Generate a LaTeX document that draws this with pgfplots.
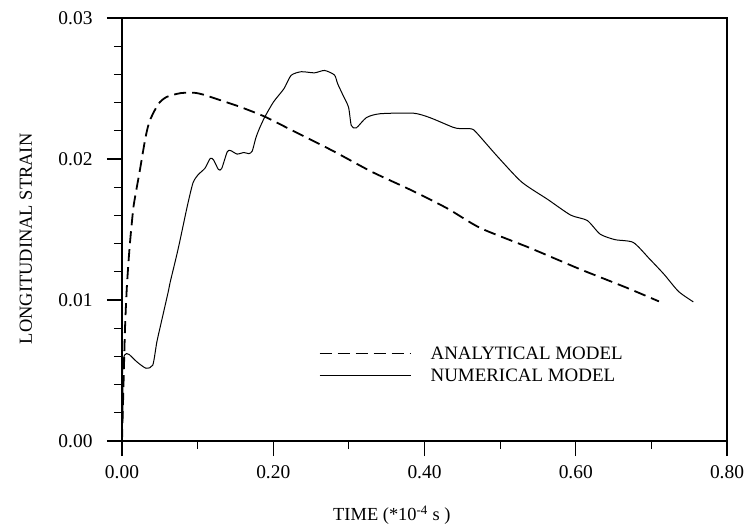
\documentclass[border=0pt]{standalone}
\usepackage{pgfplots}
\pgfplotsset{compat=1.18}
\usepackage{fontspec}
\setmainfont{Liberation Serif}
\begin{document}
\begin{tikzpicture}
\begin{axis}[
  scale only axis, width=605bp, height=423bp,
  xmin=0, xmax=0.8, ymin=0, ymax=0.03,
  axis line style={line width=1.3bp},
  tick align=outside, tick pos=left,
  xtick={0,0.2,0.4,0.6,0.8}, ytick={0,0.01,0.02,0.03},
  xminorticks=true, yminorticks=true,
  minor xtick={0.1,0.3,0.5,0.7},
  minor ytick={0.002,0.004,0.006,0.008,0.012,0.014,0.016,0.018,0.022,0.024,0.026,0.028},
  major tick length=15bp, minor tick length=8bp,
  every tick/.style={line width=1.2bp, black},
  every minor tick/.style={line width=1.2bp, black},
  scaled ticks=false,
  tick label style={font=\fontsize{19.5}{21}\selectfont},
  xticklabel style={yshift=-6bp},
  yticklabel style={xshift=-11bp},
  /pgf/number format/fixed,
  /pgf/number format/fixed zerofill,
  /pgf/number format/precision=2,
  /pgf/number format/assume math mode=true,
  xlabel={TIME (*10\textsuperscript{-4} s )},
  ylabel={LONGITUDINAL STRAIN},
  every axis x label/.style={at={(axis description cs:0.446,0)}, anchor=center, yshift=-74bp, font=\fontsize{18.5}{21}\selectfont},
  every axis y label/.style={at={(axis description cs:-0.159,0.478)}, anchor=center, rotate=90, font=\fontsize{18.5}{21}\selectfont},
  legend cell align=left,
  legend image code/.code={\draw[#1] (0bp,0bp) -- (91bp,0bp);},
  legend style={draw=none, fill=none, at={(axis cs:0.26,0.00543)}, anchor=west, inner sep=0pt,
    nodes={inner sep=0pt, text height=13bp, text depth=0bp, anchor=west},
    row sep=9bp, /tikz/every odd column/.append style={column sep=19bp},
    font=\fontsize{19}{21}\selectfont},
  clip=false,
]
\addplot[black, line width=1.8bp, dash pattern=on 12bp off 6bp, smooth, tension=0.4] coordinates {
(0.000,0.0000) (0.002,0.0040) (0.004,0.0080) (0.0065,0.0110) (0.0097,0.0135)
(0.0125,0.0152) (0.0157,0.0168) (0.0233,0.0191) (0.031,0.0215) (0.0366,0.0227)
(0.048,0.0239) (0.059,0.0244) (0.0773,0.02467) (0.095,0.0247) (0.108,0.02456)
(0.134,0.0241) (0.156,0.0237) (0.189,0.0230) (0.226,0.0220) (0.278,0.0206)
(0.330,0.0191) (0.382,0.0178) (0.430,0.0165) (0.474,0.0151) (0.539,0.0137)
(0.605,0.0122) (0.666,0.0109) (0.710,0.0099)
};
\addlegendentry{ANALYTICAL MODEL}
\addplot[black, line width=1bp, smooth, tension=0.4] coordinates {
(0.000,0.0004) (0.0015,0.0030) (0.0005,0.0045) (0.002,0.0058) (0.0035,0.0061)
(0.006,0.0062) (0.0094,0.00614) (0.020,0.0056) (0.0318,0.00516) (0.0407,0.00538)
(0.046,0.0070) (0.051,0.0082) (0.061,0.01055) (0.0637,0.01126) (0.0711,0.0129)
(0.0762,0.0141) (0.0864,0.01667) (0.0939,0.01831) (0.1008,0.01889) (0.1098,0.01935)
(0.1168,0.02005) (0.1211,0.01993) (0.1275,0.01926) (0.1318,0.01932) (0.1391,0.0205)
(0.1435,0.0206) (0.1522,0.02035) (0.1612,0.02046) (0.1677,0.02038) (0.1722,0.02056)
(0.177,0.0215) (0.182,0.0222) (0.189,0.0230) (0.2005,0.02406) (0.2142,0.02499)
(0.2236,0.02593) (0.237,0.02619) (0.2545,0.02611) (0.2678,0.02628) (0.2809,0.02596)
(0.285,0.02536) (0.2912,0.02464) (0.2995,0.02368) (0.3032,0.02238) (0.3097,0.0222)
(0.3233,0.02294) (0.3413,0.02321) (0.3853,0.02325) (0.4073,0.02293) (0.4377,0.02225)
(0.4465,0.02216) (0.4619,0.02214) (0.4684,0.02189) (0.4963,0.02019) (0.5284,0.01837)
(0.563,0.01713) (0.5933,0.01602) (0.6152,0.01564) (0.6323,0.01467) (0.6519,0.01428)
(0.6761,0.01408) (0.6975,0.01292) (0.7168,0.01182) (0.736,0.0106) (0.7554,0.00987)
};
\addlegendentry{NUMERICAL MODEL}
\end{axis}
\pgfresetboundingbox
\path (-122bp,-91bp) rectangle (633bp,441bp);
\end{tikzpicture}
\end{document}
